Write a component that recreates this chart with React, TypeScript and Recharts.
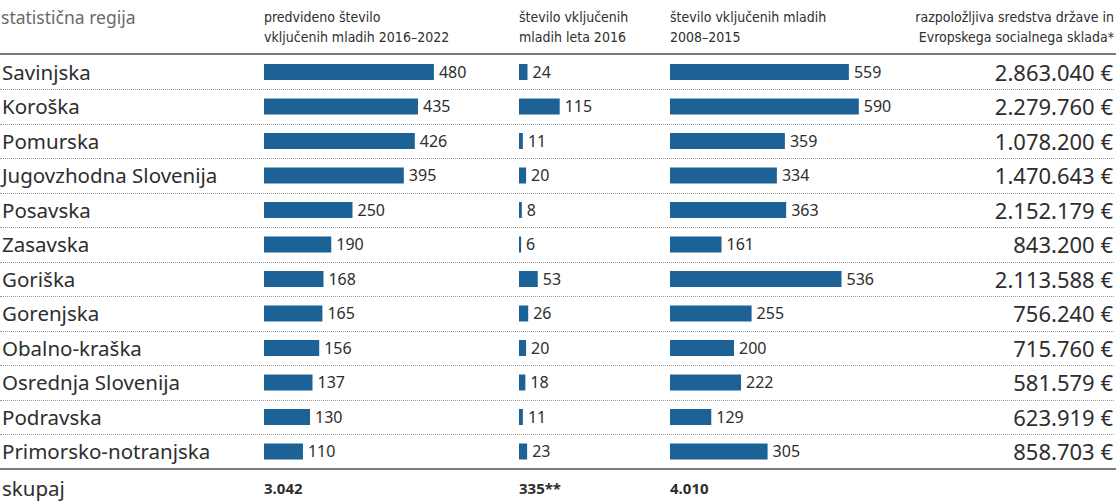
import { BarChart, Bar, XAxis, YAxis, LabelList } from "recharts"

const regions = [
  "Savinjska",
  "Koroška",
  "Pomurska",
  "Jugovzhodna Slovenija",
  "Posavska",
  "Zasavska",
  "Goriška",
  "Gorenjska",
  "Obalno-kraška",
  "Osrednja Slovenija",
  "Podravska",
  "Primorsko-notranjska",
];

const planned = [480, 435, 426, 395, 250, 190, 168, 165, 156, 137, 130, 110];
const included2016 = [24, 115, 11, 20, 8, 6, 53, 26, 20, 18, 11, 23];
const included0815 = [559, 590, 359, 334, 363, 161, 536, 255, 200, 222, 129, 305];
const funds = [
  2863040, 2279760, 1078200, 1470643, 2152179, 843200, 2113588, 756240, 715760,
  581579, 623919, 858703,
];
const totals = ["3.042", "335**", "4.010"];

const BLUE = "#1d6297";
const TEXT = "#2e2e2e";
const TOP = 54.5;
const ROW = 34.5;
const BODY_FONT = "'Noto Sans', 'Open Sans', sans-serif";
const HEAD_FONT = "'Liberation Sans Narrow', 'DejaVu Sans Condensed', 'DejaVu Sans', sans-serif";

const fmt = (n: number) => n.toString().replace(/\B(?=(\d{3})+(?!\d))/g, ".") + " €";

// eslint-disable-next-line @typescript-eslint/no-explicit-any
const Column = ({ values, left, width, max }: any) => {
  const data = regions.map((r, i) => ({ region: r, value: values[i] }));
  return (
    <div style={{ position: "absolute", left, top: TOP, width, height: ROW * 12 }}>
      <BarChart
        width={width}
        height={ROW * 12}
        data={data}
        layout="vertical"
        margin={{ top: 0, right: 0, bottom: 0, left: 0 }}
      >
        <XAxis type="number" domain={[0, max]} hide />
        <YAxis type="category" dataKey="region" hide />
        <Bar dataKey="value" fill={BLUE} barSize={16} isAnimationActive={false}>
          <LabelList
            dataKey="value"
            position="right"
            offset={5}
            style={{ fill: TEXT, fontSize: 16, fontFamily: BODY_FONT }}
          />
        </Bar>
      </BarChart>
    </div>
  )
}

const headStyle = {
  position: "absolute" as const,
  top: 7,
  fontFamily: HEAD_FONT,
  fontSize: 14,
  lineHeight: "20px",
  color: TEXT,
};

export default function App() {
  return (
    <div
      style={{
        position: "absolute",
        left: 0,
        top: 0,
        width: 1119,
        height: 502,
        background: "#fff",
        color: TEXT,
        fontFamily: BODY_FONT,
        overflow: "hidden",
      }}
    >
      {/* headers */}
      <div style={{ position: "absolute", left: 1, top: 5, fontSize: 17.5, color: "#6a6a6a", fontFamily: BODY_FONT }}>
        statistična regija
      </div>
      <div style={{ ...headStyle, left: 264 }}>
        predvideno število
        <br />
        vključenih mladih 2016–2022
      </div>
      <div style={{ ...headStyle, left: 519 }}>
        število vključenih
        <br />
        mladih leta 2016
      </div>
      <div style={{ ...headStyle, left: 670 }}>
        število vključenih mladih
        <br />
        2008–2015
      </div>
      <div style={{ ...headStyle, right: 5, textAlign: "right" }}>
        razpoložljiva sredstva države in
        <br />
        Evropskega socialnega sklada*
      </div>

      {/* rules */}
      <div style={{ position: "absolute", left: 0, width: 1116, top: 53, height: 2, background: "#7a7a7a" }} />
      <div style={{ position: "absolute", left: 0, width: 1116, top: 467.5, height: 2, background: "#7a7a7a" }} />
      {regions.slice(1).map((r, i) => (
        <div
          key={r}
          style={{
            position: "absolute",
            left: 0,
            width: 1114,
            top: TOP + ROW * (i + 1),
            borderTop: "1px dotted #9a9a9a",
          }}
        />
      ))}

      {/* region names and funds */}
      {regions.map((r, i) => (
        <div
          key={r}
          style={{
            position: "absolute",
            left: 2,
            top: TOP + ROW * i,
            height: ROW,
            lineHeight: `${ROW}px`,
            fontSize: 20.5,
          }}
        >
          {r}
        </div>
      ))}
      {funds.map((f, i) => (
        <div
          key={i}
          style={{
            position: "absolute",
            right: 6,
            top: TOP + ROW * i,
            height: ROW,
            lineHeight: `${ROW}px`,
            fontSize: 22,
            textAlign: "right",
          }}
        >
          {fmt(f)}
        </div>
      ))}

      <Column values={planned} left={264} width={220} max={220 / 0.354} />
      <Column values={included2016} left={519} width={140} max={140 / 0.354} />
      <Column values={included0815} left={670} width={250} max={250 / 0.32} />

      {/* totals */}
      <div style={{ position: "absolute", left: 2, top: 474, fontSize: 20.5, lineHeight: "28px" }}>skupaj</div>
      {totals.map((t, i) => (
        <div
          key={t}
          style={{
            position: "absolute",
            left: [264, 519, 670][i],
            top: 474,
            fontSize: 15,
            fontWeight: 700,
            lineHeight: "28px",
          }}
        >
          {t}
        </div>
      ))}
    </div>
  )
}
